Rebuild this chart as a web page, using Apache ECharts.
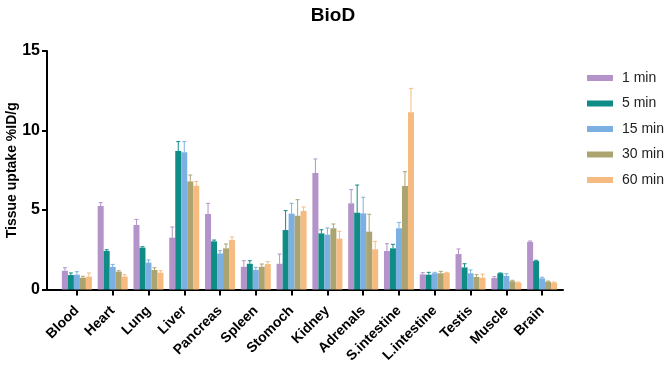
<!DOCTYPE html>
<html>
<head>
<meta charset="utf-8">
<script src="https://cdn.jsdelivr.net/npm/echarts@6/dist/echarts.min.js"></script>
<style>html,body{margin:0;padding:0;background:#fff}#c{width:666px;height:368px}</style>
</head>
<body>
<div id="c"></div>
<script>
const categories = ['Blood','Heart','Lung','Liver','Pancreas','Spleen','Stomoch','Kidney','Adrenals','S.intestine','L.intestine','Testis','Muscle','Brain'];
const seriesNames = ['1 min','5 min','15 min','30 min','60 min'];
const colors = ['#B393C9','#0E8C85','#7DB0E2','#ABA470','#F5BB80'];
const yTicks = [0, 5, 10, 15];

const mean1  = [1.18, 5.25, 4.06, 3.26, 4.75, 1.43, 1.62, 7.33, 5.42, 2.42, 0.95, 2.23, 0.72, 2.99];
const err1   = [1.37, 5.46, 4.41, 3.93, 5.42, 1.81, 2.23, 8.21, 6.28, 2.88, 1.06, 2.55, 0.81, 3.05];
const mean5  = [0.91, 2.42, 2.63, 8.71, 3.03, 1.62, 3.74, 3.53, 4.83, 2.59, 0.93, 1.39, 1.02, 1.79];
const err5   = [1.04, 2.50, 2.69, 9.30, 3.11, 1.81, 4.96, 3.76, 6.57, 2.84, 1.08, 1.62, 1.04, 1.84];
const mean15 = [0.93, 1.42, 1.69, 8.63, 2.27, 1.23, 4.77, 3.45, 4.79, 3.85, 1.02, 1.02, 0.85, 0.70];
const err15  = [1.12, 1.58, 1.86, 9.30, 2.44, 1.39, 5.42, 3.87, 5.80, 4.22, 1.08, 1.23, 0.99, 0.77];
const mean30 = [0.74, 1.12, 1.23, 6.80, 2.59, 1.43, 4.64, 3.85, 3.64, 6.51, 1.02, 0.79, 0.52, 0.49];
const err30  = [0.83, 1.18, 1.37, 7.20, 2.86, 1.60, 5.65, 4.12, 4.73, 7.41, 1.14, 0.93, 0.58, 0.53];
const mean60 = [0.81, 0.81, 1.06, 6.53, 3.11, 1.60, 4.94, 3.20, 2.53, 11.14, 1.04, 0.74, 0.43, 0.43];
const err60  = [1.04, 0.93, 1.18, 6.80, 3.30, 1.75, 5.19, 3.66, 3.03, 12.65, 1.08, 0.97, 0.47, 0.47];

const means = [mean1, mean5, mean15, mean30, mean60];
const errs = [err1, err5, err15, err30, err60];
const BAR_W = 6;
const FONT = '"Liberation Sans", Arial, sans-serif';

const series = [];
means.forEach((m, s) => {
  series.push({
    name: seriesNames[s], type: 'bar', data: m, barWidth: BAR_W, barGap: '0%',
    itemStyle: { color: colors[s] }, xAxisIndex: 0, yAxisIndex: 0, z: 2
  });
});
means.forEach((m, s) => {
  series.push({
    name: seriesNames[s] + ' err', type: 'custom', xAxisIndex: 0, yAxisIndex: 0, z: 1,
    data: m.map((v, i) => [i, v, errs[s][i]]),
    encode: { x: 0, y: 2 },
    renderItem: function (params, api) {
      const i = api.value(0);
      const base = api.coord([i, api.value(1)]);
      const top = api.coord([i, api.value(2)]);
      const x = base[0] + (s - 2) * BAR_W;
      const style = { stroke: colors[s], lineWidth: 1 };
      return { type: 'group', children: [
        { type: 'line', shape: { x1: x, y1: base[1], x2: x, y2: top[1] }, style: style },
        { type: 'line', shape: { x1: x - 2, y1: top[1], x2: x + 2, y2: top[1] }, style: style }
      ]};
    }
  });
});

const chart = echarts.init(document.getElementById('c'), null, { renderer: 'canvas' });
chart.setOption({
  animation: false,
  backgroundColor: '#fff',
  title: { text: 'BioD', left: 'center', top: 1, textStyle: { fontFamily: FONT, fontSize: 19, fontWeight: 'bold', color: '#000' } },
  legend: {
    data: seriesNames, orient: 'vertical', left: 582, top: 66, itemWidth: 26, itemHeight: 6, itemGap: 11.5,
    icon: 'rect', textStyle: { fontFamily: FONT, fontSize: 14, color: '#222', padding: [0, 0, 0, 4] }
  },
  grid: [
    { left: 59, right: 106, top: 51, bottom: 78.5, containLabel: false, outerBoundsMode: 'none' },
    { left: 46, right: 103, top: 51, bottom: 78.5, containLabel: false, outerBoundsMode: 'none' }
  ],
  xAxis: [
    {
      type: 'category', data: categories, gridIndex: 0,
      axisLine: { show: false },
      axisTick: { show: true, alignWithLabel: true, length: 6, lineStyle: { color: '#000', width: 2 } },
      axisLabel: { rotate: 45, margin: 19, interval: 0, fontFamily: FONT, fontSize: 14, fontWeight: 'bold', color: '#000' }
    },
    {
      type: 'value', gridIndex: 1, min: 0, max: 1,
      axisLine: { show: true, lineStyle: { color: '#000', width: 2 } },
      axisTick: { show: false }, axisLabel: { show: false }, splitLine: { show: false }
    }
  ],
  yAxis: [
    {
      type: 'value', gridIndex: 0, min: yTicks[0], max: yTicks[yTicks.length - 1], interval: 5, offset: 12,
      name: 'Tissue uptake %ID/g', nameLocation: 'middle', nameGap: 28, nameMoveOverlap: false,
      nameTextStyle: { fontFamily: FONT, fontSize: 14, fontWeight: 'bold', color: '#000' },
      axisLine: { show: true, lineStyle: { color: '#000', width: 2 } },
      axisTick: { show: true, length: 5, lineStyle: { color: '#000', width: 2 } },
      axisLabel: { margin: 7, fontFamily: FONT, fontSize: 16, fontWeight: 'bold', color: '#000' },
      splitLine: { show: false }
    },
    { type: 'value', gridIndex: 1, show: false, min: 0, max: 1 }
  ],
  series: series
});
</script>
</body>
</html>
